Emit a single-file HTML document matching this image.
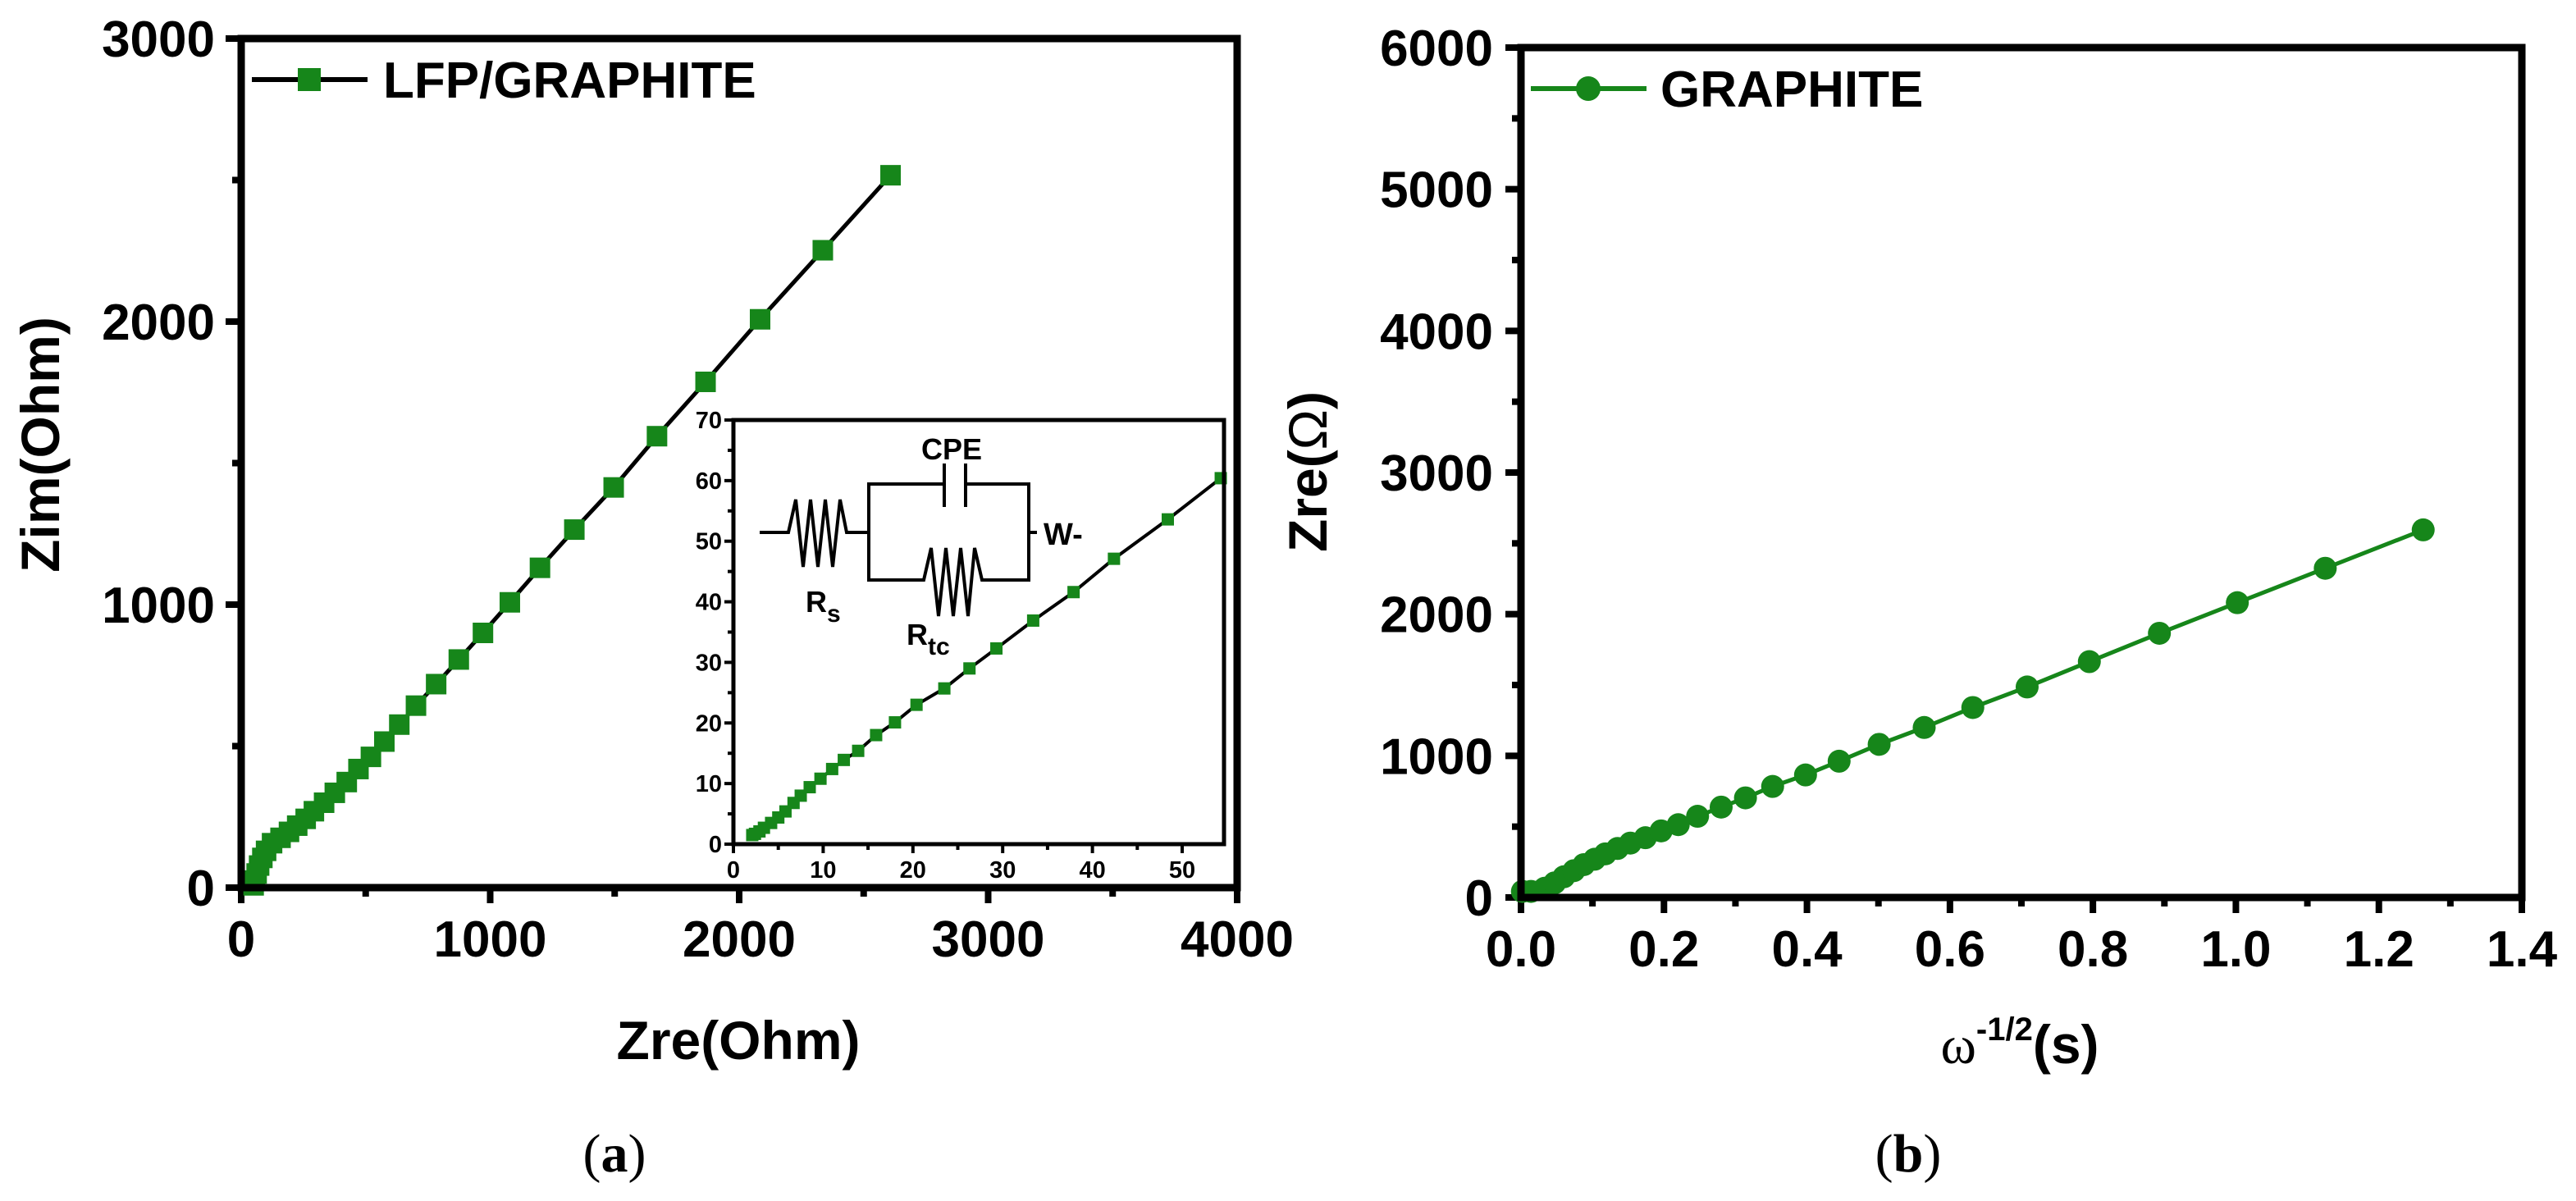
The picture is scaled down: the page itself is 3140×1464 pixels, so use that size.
<!DOCTYPE html>
<html><head><meta charset="utf-8"><style>
html,body{margin:0;padding:0;background:#fff;}
svg{display:block;}
text{font-family:"Liberation Sans",sans-serif;}
</style></head><body>
<svg id="fig" width="3140" height="1464" viewBox="0 0 3140 1464" xmlns="http://www.w3.org/2000/svg"></svg>
<script>
// ---- data: panel (a) Nyquist ----
const nyqZre = [50,55,62,72,85,100,124,158,192,225,259,292,333,376,424,471,521,575,635,702,783,874,971,1079,1200,1338,1496,1670,1865,2084,2336,2608];
const nyqZim = [8,25,50,78,105,130,157,176,197,219,243,270,300,335,373,419,462,516,576,643,719,806,900,1008,1130,1265,1414,1595,1787,2008,2252,2517];
const aXTicks = [0,1000,2000,3000,4000];
const aYTicks = [0,1000,2000,3000];
// ---- inset data ----
const insZre = [2.1,2.4,2.9,3.4,4.2,5.0,5.8,6.7,7.5,8.5,9.7,11.0,12.3,13.9,15.9,18.0,20.4,23.5,26.3,29.3,33.4,37.9,42.4,48.4,54.3];
const insZim = [1.5,1.7,2.1,2.7,3.5,4.4,5.4,6.8,8.0,9.4,10.8,12.4,13.9,15.4,18.0,20.1,23.0,25.7,29.0,32.3,36.9,41.6,47.1,53.6,60.4];
const insXTicks = [0,10,20,30,40,50];
const insYTicks = [0,10,20,30,40,50,60,70];
// ---- panel (b) ----
const wX = [0.002,0.014,0.033,0.047,0.060,0.074,0.088,0.103,0.118,0.135,0.153,0.174,0.196,0.220,0.247,0.280,0.314,0.352,0.398,0.445,0.501,0.564,0.632,0.708,0.795,0.893,1.002,1.125,1.262];
const wY = [43,43,65,103,146,189,232,270,308,346,384,422,470,514,573,638,703,784,865,962,1081,1200,1341,1486,1665,1865,2081,2324,2595];
const bXTicks = [0,0.2,0.4,0.6,0.8,1.0,1.2,1.4];
const bYTicks = [0,1000,2000,3000,4000,5000,6000];

const NS="http://www.w3.org/2000/svg";
const svg=document.getElementById('fig');
function mk(tag,attrs,parent){const e=document.createElementNS(NS,tag);for(const k in attrs)e.setAttribute(k,attrs[k]);(parent||svg).appendChild(e);return e;}
function lin(d0,d1,p0,p1){return v=>p0+(v-d0)*(p1-p0)/(d1-d0);}
const GREEN="#16861a";

// ===== Panel (a) =====
const ax=lin(0,4000,294,1508), ay=lin(0,3000,1082,47);
const ga=mk('g',{});


aXTicks.forEach((t,i)=>{
  const x=ax(t);
  const tk=mk('line',{x1:x,y1:1082,x2:x,y2:1101,stroke:'#000','stroke-width':8},ga);
   
  const lb=mk('text',{x:x,y:1166,'font-size':62,'font-weight':'bold','text-anchor':'middle'},ga);
  lb.textContent=t;  
  if(i<aXTicks.length-1){const m=ax(t+500);const mt=mk('line',{x1:m,y1:1082,x2:m,y2:1093,stroke:'#000','stroke-width':8},ga);}
});
aYTicks.forEach((t,i)=>{
  const y=ay(t);
  const tk=mk('line',{x1:275,y1:y,x2:294,y2:y,stroke:'#000','stroke-width':8},ga);
   
  const lb=mk('text',{x:262,y:y+22,'font-size':62,'font-weight':'bold','text-anchor':'end'},ga);
  lb.textContent=t;  
  if(i<aYTicks.length-1){const m=ay(t+500);const mt=mk('line',{x1:283,y1:m,x2:294,y2:m,stroke:'#000','stroke-width':8},ga);}
});
let pts=nyqZre.map((v,i)=>ax(v)+','+ay(nyqZim[i])).join(' ');
const la=mk('polyline',{points:pts,fill:'none',stroke:'#000','stroke-width':5},ga);
 
nyqZre.forEach((v,i)=>{
  const r=mk('rect',{x:ax(v)-12.5,y:ay(nyqZim[i])-12.5,width:25,height:25,fill:GREEN},ga);
   
});
const fa=mk('rect',{x:294,y:47,width:1214,height:1035,fill:'none',stroke:'#000','stroke-width':9},ga);
 
const lgA=mk('g',{},ga);
 
mk('line',{x1:307,y1:97,x2:448,y2:97,stroke:'#000','stroke-width':6},lgA);
mk('rect',{x:363,y:83,width:28,height:28,fill:GREEN},lgA);
const lt=mk('text',{x:467,y:119,'font-size':62,'font-weight':'bold'},lgA);lt.textContent='LFP/GRAPHITE';
const xt=mk('text',{x:900,y:1291,'font-size':66,'font-weight':'bold','text-anchor':'middle'},ga);
xt.textContent='Zre(Ohm)';  
const yt=mk('text',{x:0,y:0,'font-size':66,'font-weight':'bold','text-anchor':'middle',transform:'translate(72,542) rotate(-90)'},ga);
yt.textContent='Zim(Ohm)';  

// ===== Inset =====
const ix=lin(0,50,894,1441), iy=lin(0,70,1029,512);
const gi=mk('g',{});


mk('rect',{x:894,y:512,width:598,height:517,fill:'#fff',stroke:'none'},gi);
insXTicks.forEach((t)=>{
  const x=ix(t);
  const tk=mk('line',{x1:x,y1:1029,x2:x,y2:1040,stroke:'#000','stroke-width':4},gi);
   
  const m=ix(t+5);
  if(m<1492){const mt=mk('line',{x1:m,y1:1029,x2:m,y2:1036,stroke:'#000','stroke-width':4},gi);}
  const lb=mk('text',{x:x,y:1070,'font-size':29,'font-weight':'bold','text-anchor':'middle'},gi);
  lb.textContent=t;  
});
insYTicks.forEach((t)=>{
  const y=iy(t);
  const tk=mk('line',{x1:883,y1:y,x2:894,y2:y,stroke:'#000','stroke-width':4},gi);
   
  if(t<70){const m=iy(t+5);const mt=mk('line',{x1:887,y1:m,x2:894,y2:m,stroke:'#000','stroke-width':4},gi);}
  const lb=mk('text',{x:880,y:y+10,'font-size':29,'font-weight':'bold','text-anchor':'end'},gi);
  lb.textContent=t;  
});
pts=insZre.map((v,i)=>ix(v)+','+iy(insZim[i])).join(' ');
const li=mk('polyline',{points:pts,fill:'none',stroke:'#000','stroke-width':4},gi);
 
insZre.forEach((v,i)=>{
  const r=mk('rect',{x:ix(v)-7.5,y:iy(insZim[i])-7.5,width:15,height:15,fill:GREEN},gi);
   
});
const fi=mk('rect',{x:894,y:512,width:598,height:517,fill:'none',stroke:'#000','stroke-width':5},gi);
 
const gc=mk('g',{fill:'none',stroke:'#000','stroke-width':4,'stroke-linejoin':'miter'},gi);
 
mk('polyline',{points:'926,649 961,649 970,609 979,691 988,609 997,691 1006,609 1015,691 1024,609 1032,649 1059,649'},gc);
mk('polyline',{points:'1151,590 1059,590 1059,707 1126,707 1135,668 1144,751 1153,668 1162,751 1171,668 1180,751 1188,668 1197,707 1254,707 1254,590 1177,590'},gc);
mk('line',{x1:1151,y1:565,x2:1151,y2:618},gc);
mk('line',{x1:1177,y1:565,x2:1177,y2:618},gc);
mk('line',{x1:1254,y1:649,x2:1264,y2:649},gc);
const tc=mk('text',{x:1160,y:560,'font-size':36,'font-weight':'bold','text-anchor':'middle'},gi);tc.textContent='CPE';

const tw=mk('text',{x:1272,y:664,'font-size':38,'font-weight':'bold'},gi);tw.textContent='W-';

const trs=mk('text',{x:982,y:746,'font-size':36,'font-weight':'bold'},gi);
trs.innerHTML='R<tspan font-size="30" dy="12">s</tspan>';

const trt=mk('text',{x:1105,y:786,'font-size':36,'font-weight':'bold'},gi);
trt.innerHTML='R<tspan font-size="30" dy="12">tc</tspan>';


// ===== Panel (b) =====
const bx=lin(0,1.4,1854,3074), by=lin(0,6000,1094,58);
const gb=mk('g',{});


bXTicks.forEach((t,i)=>{
  const x=bx(t);
  const tk=mk('line',{x1:x,y1:1094,x2:x,y2:1113,stroke:'#000','stroke-width':8},gb);
   
  const lb=mk('text',{x:x,y:1178,'font-size':62,'font-weight':'bold','text-anchor':'middle'},gb);
  lb.textContent=t.toFixed(1);  
  if(i<bXTicks.length-1){const m=bx(t+0.1);const mt=mk('line',{x1:m,y1:1094,x2:m,y2:1105,stroke:'#000','stroke-width':8},gb);}
});
bYTicks.forEach((t,i)=>{
  const y=by(t);
  const tk=mk('line',{x1:1835,y1:y,x2:1854,y2:y,stroke:'#000','stroke-width':8},gb);
   
  const lb=mk('text',{x:1820,y:y+22,'font-size':62,'font-weight':'bold','text-anchor':'end'},gb);
  lb.textContent=t;  
  if(i<bYTicks.length-1){const m=by(t+500);const mt=mk('line',{x1:1843,y1:m,x2:1854,y2:m,stroke:'#000','stroke-width':8},gb);}
});
pts=wX.map((v,i)=>bx(v)+','+by(wY[i])).join(' ');
const lb2=mk('polyline',{points:pts,fill:'none',stroke:GREEN,'stroke-width':5},gb);
 
wX.forEach((v,i)=>{
  const c=mk('circle',{cx:bx(v),cy:by(wY[i]),r:14,fill:GREEN},gb);
   
});
const fb=mk('rect',{x:1854,y:58,width:1220,height:1036,fill:'none',stroke:'#000','stroke-width':9},gb);
 
const lgB=mk('g',{},gb);
 
mk('line',{x1:1866,y1:108,x2:2007,y2:108,stroke:GREEN,'stroke-width':6},lgB);
mk('circle',{cx:1936,cy:108,r:15,fill:GREEN},lgB);
const lt2=mk('text',{x:2024,y:130,'font-size':62,'font-weight':'bold'},lgB);lt2.textContent='GRAPHITE';
const xt2=mk('text',{x:2462,y:1296,'font-size':66,'font-weight':'bold','text-anchor':'middle'},gb);
xt2.innerHTML='<tspan style="font-family:\'Liberation Serif\',serif;font-weight:normal">ω</tspan><tspan font-size="40" dy="-28">-1/2</tspan><tspan dy="28">(s)</tspan>';
 
const yt2=mk('text',{x:0,y:0,'font-size':66,'font-weight':'bold','text-anchor':'middle',transform:'translate(1617,575) rotate(-90)'},gb);
yt2.innerHTML='Zre(<tspan font-weight="normal">Ω</tspan>)';
 

// captions
const ca=mk('text',{x:749,y:1428,'font-size':66,'text-anchor':'middle',style:"font-family:'Liberation Serif',serif"});
ca.innerHTML='(<tspan font-weight="bold">a</tspan>)';
 
const cb=mk('text',{x:2326,y:1428,'font-size':66,'text-anchor':'middle',style:"font-family:'Liberation Serif',serif"});
cb.innerHTML='(<tspan font-weight="bold">b</tspan>)';
 
</script>
</body></html>
